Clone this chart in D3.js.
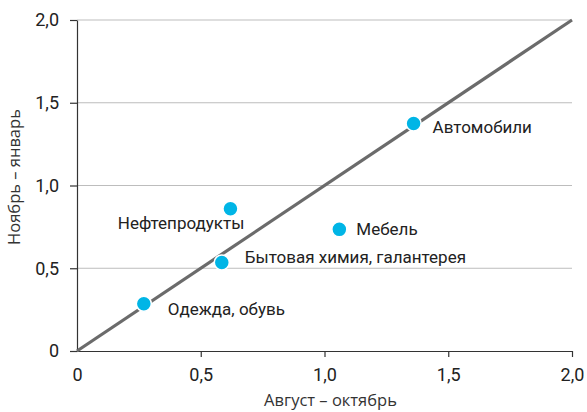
<!DOCTYPE html>
<html>
<head>
<meta charset="utf-8">
<script src="https://cdn.jsdelivr.net/npm/d3@7"></script>
<style>
  body { margin: 0; background: #fff; }
  svg { display: block; }
</style>
</head>
<body>
<div id="chart"></div>
<script>
// data
const categories = ['Автомобили', 'Нефтепродукты', 'Мебель', 'Бытовая химия, галантерея', 'Одежда, обувь'];
const augOct = [1.36, 0.62, 1.06, 0.585, 0.27];   // x
const novJan = [1.375, 0.86, 0.735, 0.535, 0.285]; // y
const tickValues = [0, 0.5, 1, 1.5, 2];
const tickLabels = ['0', '0,5', '1,0', '1,5', '2,0'];

// label placement relative to point
const labelPos = {
    'Автомобили': { dx: 19, dy: 10, anchor: 'start' },
    'Нефтепродукты': { dx: 14, dy: 20, anchor: 'end' },
    'Мебель': { dx: 17, dy: 6, anchor: 'start' },
    'Бытовая химия, галантерея': { dx: 23, dy: 1, anchor: 'start' },
    'Одежда, обувь': { dx: 24, dy: 11, anchor: 'start' }
};

const dims = { width: 587, height: 412 };
const margin = { top: 20, right: 15, bottom: 61, left: 77 };
const w = dims.width - margin.left - margin.right;
const h = dims.height - margin.top - margin.bottom;

const svg = d3.select('#chart')
    .append('svg')
    .attr('width', dims.width)
    .attr('height', dims.height);

const graph = svg.append('g')
    .attr('transform', `translate(${margin.left},${margin.top})`);

const x = d3.scaleLinear().domain([0, 2]).range([0, w]);
const y = d3.scaleLinear().domain([0, 2]).range([h, 0]);

const fmt = d => tickLabels[tickValues.indexOf(d)];

// grid lines
graph.selectAll('.grid')
    .data(tickValues.filter(d => d > 0))
    .enter()
    .append('line')
    .attr('x1', 0)
    .attr('x2', w)
    .attr('y1', d => y(d))
    .attr('y2', d => y(d))
    .attr('stroke', '#bdbdbd')
    .attr('stroke-width', 1);

// axes
const xAxis = graph.append('g')
    .attr('transform', `translate(0,${h})`)
    .call(d3.axisBottom(x).tickValues(tickValues).tickFormat(fmt).tickSize(6).tickSizeOuter(0).tickPadding(11));

const yAxis = graph.append('g')
    .call(d3.axisLeft(y).tickValues(tickValues).tickFormat(fmt).tickSize(7).tickSizeOuter(0).tickPadding(11));

[xAxis, yAxis].forEach(a => {
    a.selectAll('path, line').attr('stroke', '#333').attr('stroke-width', 1.2);
    a.selectAll('text')
        .attr('fill', '#222')
        .style('font-family', 'Roboto, sans-serif')
        .style('font-size', '18px');
});
xAxis.selectAll('.tick').filter(d => d === 0).select('line').remove();

// diagonal
graph.append('line')
    .attr('x1', x(0))
    .attr('y1', y(0))
    .attr('x2', x(2))
    .attr('y2', y(2))
    .attr('stroke', '#6b6b6b')
    .attr('stroke-width', 3.2);

// points
const data = categories.map((c, i) => ({ name: c, x: augOct[i], y: novJan[i] }));

graph.selectAll('.pt')
    .data(data)
    .enter()
    .append('circle')
    .attr('cx', d => x(d.x))
    .attr('cy', d => y(d.y))
    .attr('r', 7.5)
    .attr('fill', '#00b5e6')
    .attr('stroke', '#fff')
    .attr('stroke-width', 1.5);

graph.selectAll('.lbl')
    .data(data)
    .enter()
    .append('text')
    .attr('x', d => x(d.x) + labelPos[d.name].dx)
    .attr('y', d => y(d.y) + labelPos[d.name].dy)
    .attr('text-anchor', d => labelPos[d.name].anchor)
    .attr('fill', '#222')
    .style('font-family', 'Roboto, sans-serif')
    .style('font-size', '17px')
    .text(d => d.name);

// axis titles
svg.append('text')
    .attr('x', margin.left + w / 2 + 6)
    .attr('y', 406)
    .attr('text-anchor', 'middle')
    .attr('fill', '#333')
    .style('font-family', '"Open Sans", sans-serif')
    .style('font-size', '16.5px')
    .text('Август – октябрь');

svg.append('text')
    .attr('transform', 'translate(20,177) rotate(-90)')
    .attr('text-anchor', 'middle')
    .attr('fill', '#333')
    .style('font-family', '"Open Sans", sans-serif')
    .style('font-size', '16.5px')
    .text('Ноябрь – январь');
</script>
</body>
</html>
